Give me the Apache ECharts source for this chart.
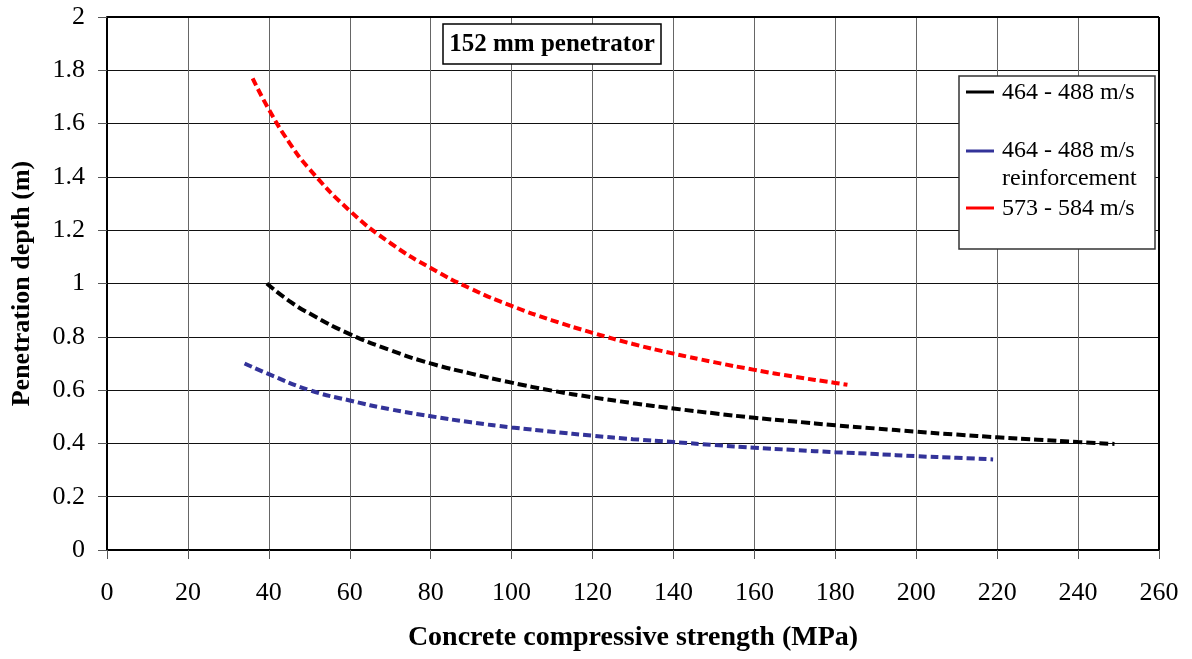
<!DOCTYPE html>
<html lang="en">
<head>
<meta charset="UTF-8">
<style>
  html, body { margin: 0; padding: 0; background: #fff; }
  #chart { width: 1192px; height: 659px; }
</style>
<script src="https://cdn.jsdelivr.net/npm/echarts@6/dist/echarts.min.js"></script>
</head>
<body>
<div id="chart"></div>
<script>
// values
const blackX = [39.5, 45, 50, 60, 70, 80, 90, 100, 110, 120, 130, 140, 150, 160, 170, 180, 190, 200, 210, 220, 230, 240, 249];
const blackY = [1.0, 0.935, 0.888, 0.81, 0.75, 0.70, 0.662, 0.628, 0.598, 0.573, 0.551, 0.531, 0.513, 0.496, 0.482, 0.468, 0.456, 0.444, 0.433, 0.423, 0.414, 0.405, 0.398];

const blueX = [34, 40, 50, 60, 70, 80, 90, 100, 110, 120, 130, 140, 150, 160, 170, 180, 190, 200, 210, 219];
const blueY = [0.70, 0.66, 0.60, 0.561, 0.528, 0.502, 0.479, 0.46, 0.444, 0.429, 0.416, 0.405, 0.394, 0.384, 0.375, 0.367, 0.36, 0.352, 0.346, 0.34];

const redX = [36, 40, 45, 50, 60, 70, 80, 90, 100, 110, 120, 130, 140, 150, 160, 170, 180, 183];
const redY = [1.77, 1.653, 1.53, 1.43, 1.273, 1.152, 1.058, 0.98, 0.916, 0.862, 0.815, 0.773, 0.737, 0.705, 0.676, 0.65, 0.627, 0.62];

const xTicks = [0, 20, 40, 60, 80, 100, 120, 140, 160, 180, 200, 220, 240, 260];
const yTicks = [0, 0.2, 0.4, 0.6, 0.8, 1, 1.2, 1.4, 1.6, 1.8, 2];

const legendNames = ['464 - 488 m/s', '464 - 488 m/s\nreinforcement', '573 - 584 m/s'];
const colors = ['#000000', '#333399', '#ff0000'];

const font = 'Liberation Serif, Times New Roman, serif';

function pairs(xs, ys) {
  return xs.map((x, i) => [x, ys[i]]);
}

const chart = echarts.init(document.getElementById('chart'), null, { renderer: 'canvas' });

function mkSeries(name, xs, ys, color, dash) {
  return {
    name: name,
    type: 'line',
    data: pairs(xs, ys),
    smooth: true,
    showSymbol: false,
    lineStyle: { color: color, width: 4, type: dash },
    z: 5
  };
}

chart.setOption({
  animation: false,
  backgroundColor: '#fff',
  grid: { left: 107, right: 33, top: 17, bottom: 109, containLabel: false, outerBoundsMode: 'none' },
  xAxis: {
    type: 'value',
    min: xTicks[0], max: xTicks[xTicks.length - 1], interval: 20,
    name: 'Concrete compressive strength (MPa)',
    nameLocation: 'middle',
    nameGap: 74,
    nameTextStyle: { fontFamily: font, fontSize: 28, fontWeight: 'bold', color: '#000' },
    axisLine: { lineStyle: { color: '#000', width: 2 } },
    axisTick: { show: true, length: 9, lineStyle: { color: '#555' } },
    axisLabel: { fontFamily: font, fontSize: 26, color: '#000', margin: 30 },
    splitLine: { show: true, lineStyle: { color: '#666', width: 1 } }
  },
  yAxis: {
    type: 'value',
    min: yTicks[0], max: yTicks[yTicks.length - 1], interval: 0.2,
    name: 'Penetration depth (m)',
    nameLocation: 'middle',
    nameGap: 72,
    nameTextStyle: { fontFamily: font, fontSize: 26, fontWeight: 'bold', color: '#000' },
    axisLine: { show: true, lineStyle: { color: '#000', width: 2 } },
    axisTick: { show: true, length: 9, lineStyle: { color: '#555' } },
    axisLabel: {
      fontFamily: font, fontSize: 26, color: '#000', margin: 22,
      formatter: v => String(Math.round(v * 10) / 10)
    },
    splitLine: { show: true, lineStyle: { color: '#111', width: 1 } }
  },
  series: [
    mkSeries(legendNames[0], blackX, blackY, colors[0], [9, 4]),
    mkSeries(legendNames[1], blueX, blueY, colors[1], [8, 4]),
    mkSeries(legendNames[2], redX, redY, colors[2], [8, 4])
  ],
  graphic: [
    // frame top and right
    { type: 'line', shape: { x1: 107, y1: 17, x2: 1159, y2: 17 }, style: { stroke: '#000', lineWidth: 2 }, z: 6 },
    { type: 'line', shape: { x1: 1159, y1: 17, x2: 1159, y2: 550 }, style: { stroke: '#000', lineWidth: 2 }, z: 6 },
    // title box
    {
      type: 'rect', shape: { x: 443, y: 24, width: 218, height: 40 },
      style: { fill: '#fff', stroke: '#000', lineWidth: 1.5 }, z: 10
    },
    {
      type: 'text', x: 552, y: 45, z: 11,
      style: { text: '152 mm penetrator', font: 'bold 25px ' + font, fill: '#000', align: 'center', verticalAlign: 'middle' }
    },
    // legend box
    {
      type: 'rect', shape: { x: 959, y: 76, width: 196, height: 173 },
      style: { fill: '#fff', stroke: '#333', lineWidth: 1.5 }, z: 10
    },
    { type: 'line', shape: { x1: 966, y1: 92, x2: 994, y2: 92 }, style: { stroke: colors[0], lineWidth: 3 }, z: 11 },
    { type: 'line', shape: { x1: 966, y1: 151, x2: 994, y2: 151 }, style: { stroke: colors[1], lineWidth: 3 }, z: 11 },
    { type: 'line', shape: { x1: 966, y1: 208, x2: 994, y2: 208 }, style: { stroke: colors[2], lineWidth: 3 }, z: 11 },
    {
      type: 'text', x: 1002, y: 93, z: 11,
      style: { text: legendNames[0], font: '24px ' + font, fill: '#000', verticalAlign: 'middle' }
    },
    {
      type: 'text', x: 1002, y: 137, z: 11,
      style: { text: legendNames[1], font: '24px ' + font, fill: '#000', verticalAlign: 'top', lineHeight: 28 }
    },
    {
      type: 'text', x: 1002, y: 209, z: 11,
      style: { text: legendNames[2], font: '24px ' + font, fill: '#000', verticalAlign: 'middle' }
    }
  ]
});
</script>
</body>
</html>
